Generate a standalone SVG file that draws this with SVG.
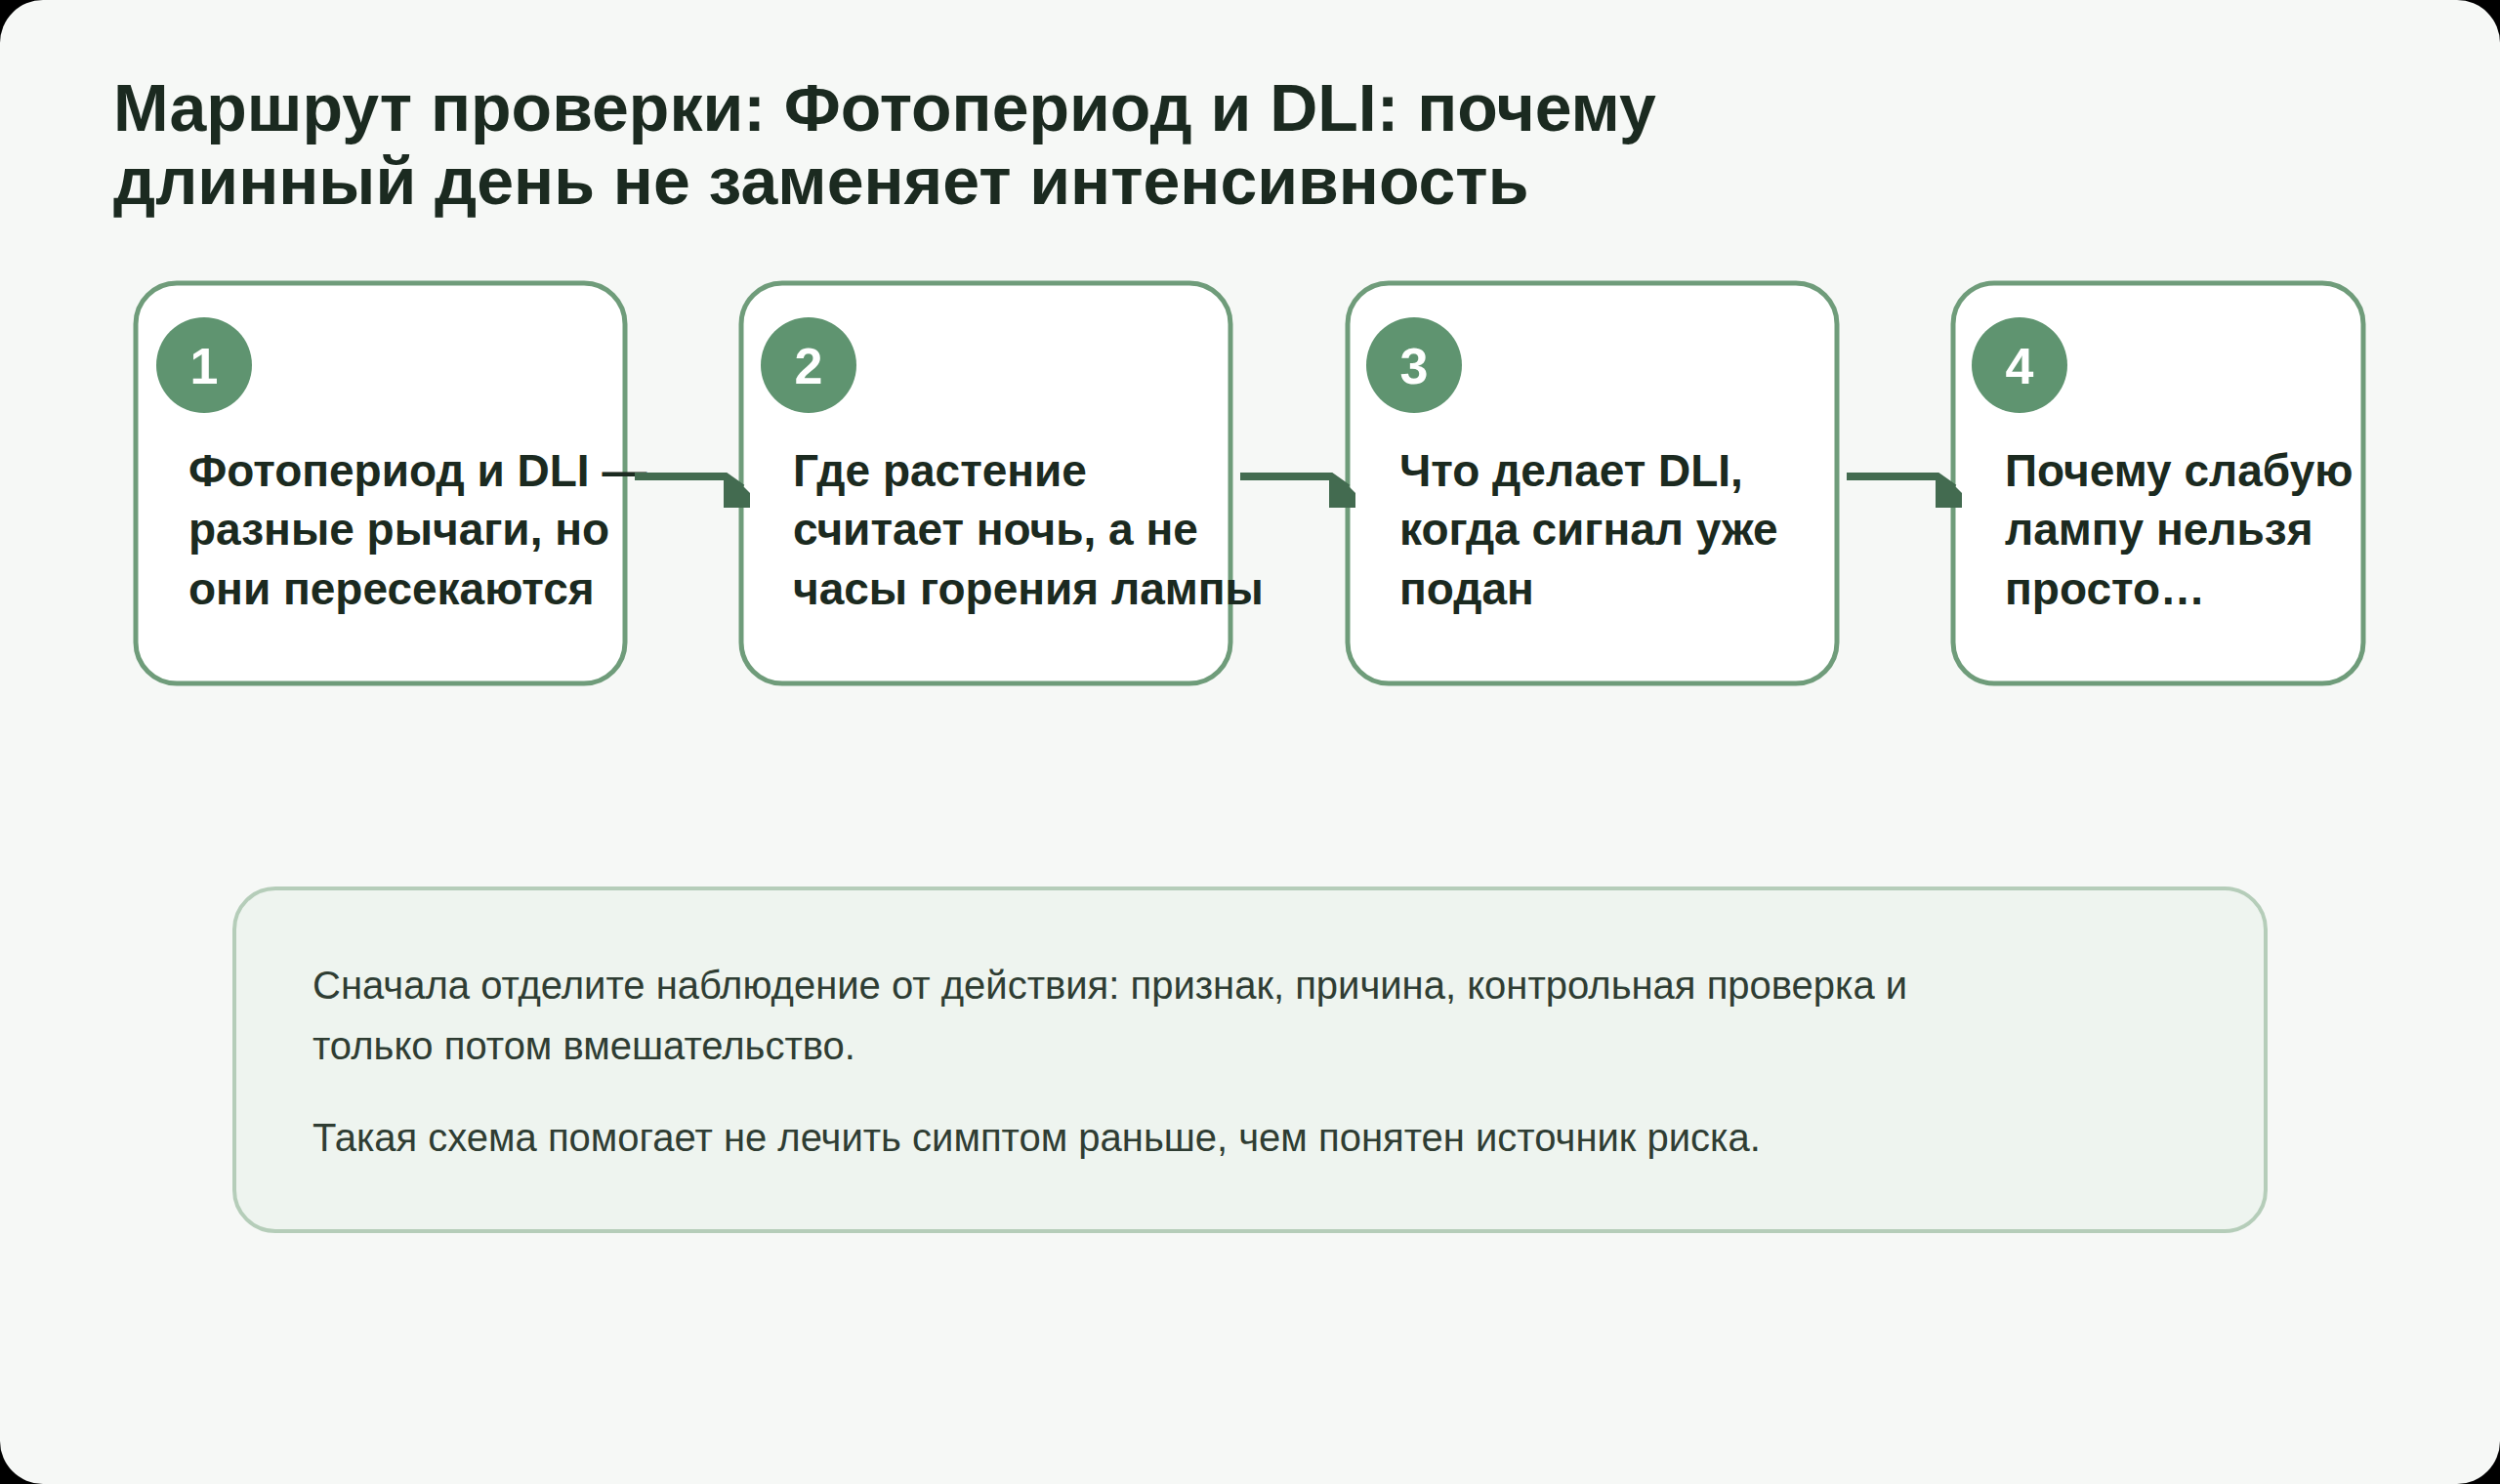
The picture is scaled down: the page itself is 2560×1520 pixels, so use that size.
<svg xmlns="http://www.w3.org/2000/svg" width="2560" height="1520" viewBox="0 0 2560 1520">
<style>
.box{fill:#fff;stroke:#6f9c7a;stroke-width:5}
.num{fill:#5f9470}
.numt{font-family:"Liberation Sans",Arial,sans-serif;font-weight:bold;font-size:52px;fill:#fff;text-anchor:middle}
.body{font-family:"Liberation Sans",Arial,sans-serif;font-weight:bold;font-size:46px;fill:#1b2a20}
.title{font-family:"Liberation Sans",Arial,sans-serif;font-weight:bold;font-size:68px;fill:#1b2a20}
.note{font-family:"Liberation Sans",Arial,sans-serif;font-size:40px;fill:#2f3d33}
.conn{fill:none;stroke:#436b50;stroke-width:8}
.head{fill:#436b50}
</style>
<rect width="2560" height="1520" fill="#000"/>
<rect width="2560" height="1520" rx="44" fill="#f6f8f6"/>
<text class="title" x="116" y="134">Маршрут проверки: Фотопериод и DLI: почему</text>
<text class="title" x="116" y="209">длинный день не заменяет интенсивность</text>
<g id="node1"><rect class="box" x="139" y="290" width="501" height="410" rx="42"/><circle class="num" cx="209" cy="374" r="49"/><text class="numt" x="209" y="393">1</text>
<text class="body"><tspan x="193" y="498">Фотопериод и DLI —</tspan><tspan x="193" y="558">разные рычаги, но</tspan><tspan x="193" y="619">они пересекаются</tspan></text></g>
<g id="node2"><rect class="box" x="759" y="290" width="501" height="410" rx="42"/><circle class="num" cx="828" cy="374" r="49"/><text class="numt" x="828" y="393">2</text>
<text class="body"><tspan x="812" y="498">Где растение</tspan><tspan x="812" y="558">считает ночь, а не</tspan><tspan x="812" y="619">часы горения лампы</tspan></text></g>
<g id="node3"><rect class="box" x="1380" y="290" width="501" height="410" rx="42"/><circle class="num" cx="1448" cy="374" r="49"/><text class="numt" x="1448" y="393">3</text>
<text class="body"><tspan x="1433" y="498">Что делает DLI,</tspan><tspan x="1433" y="558">когда сигнал уже</tspan><tspan x="1433" y="619">подан</tspan></text></g>
<g id="node4"><rect class="box" x="2000" y="290" width="420" height="410" rx="42"/><circle class="num" cx="2068" cy="374" r="49"/><text class="numt" x="2068" y="393">4</text>
<text class="body"><tspan x="2053" y="498">Почему слабую</tspan><tspan x="2053" y="558">лампу нельзя</tspan><tspan x="2053" y="619">просто…</tspan></text></g>
<g id="connectors">
<path class="conn" d="M650,488 H743 L760,500"/><polygon class="head" points="741,492 755,492 768,505 768,520 741,520"/>
<path class="conn" d="M1270,488 H1363 L1380,500"/><polygon class="head" points="1361,492 1375,492 1388,505 1388,520 1361,520"/>
<path class="conn" d="M1891,488 H1984 L2001,500"/><polygon class="head" points="1982,492 1996,492 2009,505 2009,520 1982,520"/>
</g>
<g id="note"><rect x="240" y="910" width="2080" height="351" rx="42" fill="#eef4ef" stroke="#b5cdb9" stroke-width="4"/>
<text class="note"><tspan x="320" y="1023">Сначала отделите наблюдение от действия: признак, причина, контрольная проверка и</tspan><tspan x="320" y="1085">только потом вмешательство.</tspan><tspan x="320" y="1179">Такая схема помогает не лечить симптом раньше, чем понятен источник риска.</tspan></text></g>
</svg>
